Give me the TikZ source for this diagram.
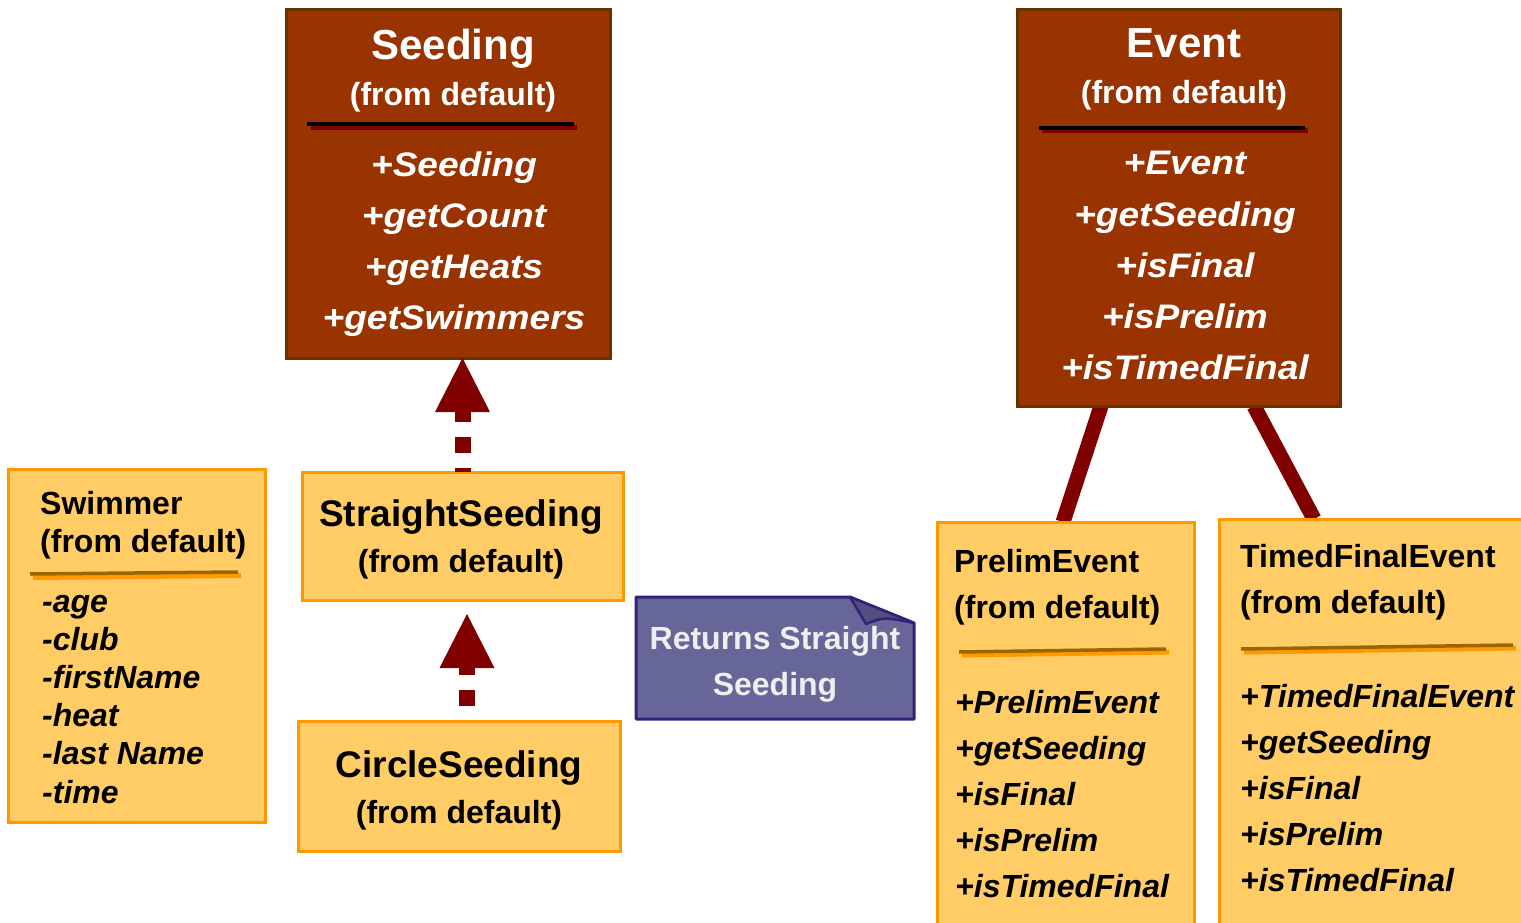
\documentclass[tikz,border=0pt]{standalone}
\usepackage{fontspec}
\setmainfont{Liberation Sans}
\usetikzlibrary{arrows.meta,calc}

\definecolor{clsbrown}{HTML}{993300}
\definecolor{clsborder}{HTML}{663300}
\definecolor{linkred}{HTML}{800000}
\definecolor{yellowfill}{HTML}{FFCC66}
\definecolor{orangeline}{HTML}{FF9900}
\definecolor{ruledark}{HTML}{996600}
\definecolor{notefill}{HTML}{666699}
\definecolor{noteline}{HTML}{332277}
\definecolor{notefold}{HTML}{4F4F82}
\definecolor{notetext}{HTML}{EEEEEE}

\pgfdeclarelayer{bg}
\pgfsetlayers{bg,main}

\newcommand\widetext[1]{\scalebox{1.09}[1]{#1}}

\tikzset{
  brownbox/.style={draw=clsborder, fill=clsbrown, line width=3pt, inner sep=0pt, outer sep=0pt, anchor=north west},
  yellowbox/.style={draw=orangeline, fill=yellowfill, line width=3pt, inner sep=0pt, outer sep=0pt, anchor=north west},
  wtitle/.style={text=white, font=\fontsize{42}{42}\selectfont\bfseries, anchor=base, inner sep=0pt},
  wsub/.style={text=white, font=\fontsize{32}{32}\selectfont\bfseries, anchor=base, inner sep=0pt},
  witem/.style={text=white, font=\fontsize{34}{34}\selectfont\bfseries\itshape, anchor=base, inner sep=0pt},
  ctitle/.style={text=black, font=\fontsize{37}{37}\selectfont\bfseries, anchor=base, inner sep=0pt},
  csub/.style={text=black, font=\fontsize{32}{32}\selectfont\bfseries, anchor=base, inner sep=0pt},
  ktext/.style={text=black, font=\fontsize{32}{32}\selectfont\bfseries, anchor=base west, inner sep=0pt},
  kitem/.style={text=black, font=\fontsize{32}{32}\selectfont\bfseries\itshape, anchor=base west, inner sep=0pt},
  notetxt/.style={text=notetext, font=\fontsize{32}{32}\selectfont\bfseries, anchor=base, inner sep=0pt},
  rulered/.style={draw=linkred, line width=5pt},
  ruleblack/.style={draw=black, line width=4pt},
  ruleorange/.style={draw=orangeline, line width=5pt},
  ruledk/.style={draw=ruledark, line width=3.5pt},
  assoc/.style={draw=linkred, line width=15pt},
  generalize/.style={draw=linkred, line width=16pt, dash pattern=on 16pt off 15pt,
    -{Triangle[length=54pt,width=55pt,line width=0pt]}},
}

\begin{document}
\begin{tikzpicture}[x=1pt,y=-1pt]
\useasboundingbox (0,0) rectangle (1521,923);

% ---- Seeding class ----
\node[brownbox, minimum width=324pt, minimum height=348pt] (seeding) at (286,10) {};
\node[wtitle] (seedname) at (453,60) {Seeding};
\node[wsub] (seedpkg) at (453,106) {(from default)};
\draw[rulered] (311,127.5) -- (577,127.5);
\draw[ruleblack] (307,124.5) -- (574,124.5);
\foreach \t [count=\i] in {+Seeding,+getCount,+getHeats,+getSwimmers}
  \node[witem] (seedop\i) at (454,{176+51.3*(\i-1)}) {\widetext{\t}};

% ---- Event class ----
\node[brownbox, minimum width=323pt, minimum height=396pt] (event) at (1017,10) {};
\node[wtitle] (eventname) at (1184,58) {Event};
\node[wsub] (eventpkg) at (1184,104) {(from default)};
\draw[rulered] (1042,131) -- (1308,131);
\draw[ruleblack] (1039,128) -- (1305,128);
\foreach \t [count=\i] in {+Event,+getSeeding,+isFinal,+isPrelim,+isTimedFinal}
  \node[witem] (eventop\i) at (1185,{175+51.2*(\i-1)}) {\widetext{\t}};

% ---- Swimmer class ----
\node[yellowbox, minimum width=257pt, minimum height=353pt] (swimmer) at (8,469) {};
\node[ktext] (swimname) at (40,514) {Swimmer};
\node[ktext] (swimpkg) at (40,552) {(from default)};
\draw[ruleorange] (33,577.5) -- (241,575.5);
\draw[ruledk] (30,574) -- (238,572);
\foreach \t [count=\i] in {-age,-club,-firstName,-heat,-last Name,-time}
  \node[kitem] (swimattr\i) at (42,{612+38.2*(\i-1)}) {\t};

% ---- StraightSeeding / CircleSeeding ----
\node[yellowbox, minimum width=321pt, minimum height=128pt] (straight) at (302,472) {};
\node[ctitle] (straightname) at (461,526) {StraightSeeding};
\node[csub] (straightpkg) at (461,572) {(from default)};

\node[yellowbox, minimum width=322pt, minimum height=130pt] (circle) at (298,721) {};
\node[ctitle] (circlename) at (459,777) {CircleSeeding};
\node[csub] (circlepkg) at (459,823) {(from default)};

% ---- PrelimEvent ----
\node[yellowbox, minimum width=257pt, minimum height=420pt] (prelim) at (937,522) {};
\node[ktext] (prelimname) at (954,572) {PrelimEvent};
\node[ktext] (prelimpkg) at (954,618) {(from default)};
\draw[ruleorange] (962,655) -- (1169,652);
\draw[ruledk] (959,652) -- (1166,649);
\foreach \t [count=\i] in {+PrelimEvent,+getSeeding,+isFinal,+isPrelim,+isTimedFinal}
  \node[kitem] (prelimop\i) at (955,{713+46*(\i-1)}) {\t};

% ---- TimedFinalEvent ----
\node[yellowbox, minimum width=320pt, minimum height=420pt] (timed) at (1219,519) {};
\node[ktext] (timedname) at (1240,567) {TimedFinalEvent};
\node[ktext] (timedpkg) at (1240,613) {(from default)};
\draw[ruleorange] (1244,652) -- (1516,648);
\draw[ruledk] (1241,649) -- (1513,645);
\foreach \t [count=\i] in {+TimedFinalEvent,+getSeeding,+isFinal,+isPrelim,+isTimedFinal}
  \node[kitem] (timedop\i) at (1240,{707+46.2*(\i-1)}) {\t};

% ---- Note ----
\node[minimum width=278pt, minimum height=122pt, inner sep=0pt, outer sep=0pt] (note) at (775,658) {};
\filldraw[fill=notefill, draw=noteline, line width=3pt, line join=round]
  (note.north west) -- ([xshift=-64pt]note.north east) -- ([yshift=-26pt]note.north east)
  -- (note.south east) -- (note.south west) -- cycle;
\filldraw[fill=notefold, draw=noteline, line width=2.5pt, line join=round]
  ([xshift=-64pt]note.north east) -- ([xshift=-48pt,yshift=-27pt]note.north east)
  .. controls ([xshift=-30pt,yshift=-20pt]note.north east) .. ([yshift=-26pt]note.north east) -- cycle;
\node[notetxt] (notel1) at (775,649) {Returns Straight};
\node[notetxt] (notel2) at (775,695) {Seeding};

% ---- Connectors ----
\draw[generalize, dash phase=12pt] (straight.north) -- (straight.north |- seeding.south);
\draw[generalize, dash phase=16pt] ($(circle.north)+(8,0)$) -- ($(circle.north |- straight.south)+(8,14)$);

\begin{pgfonlayer}{bg}
\draw[assoc] ([xshift=84pt]event.south west) -- ([xshift=126pt]prelim.north west);
\draw[assoc] ([xshift=237pt]event.south west) -- ([xshift=95pt]timed.north west);
\end{pgfonlayer}
\end{tikzpicture}
\end{document}
